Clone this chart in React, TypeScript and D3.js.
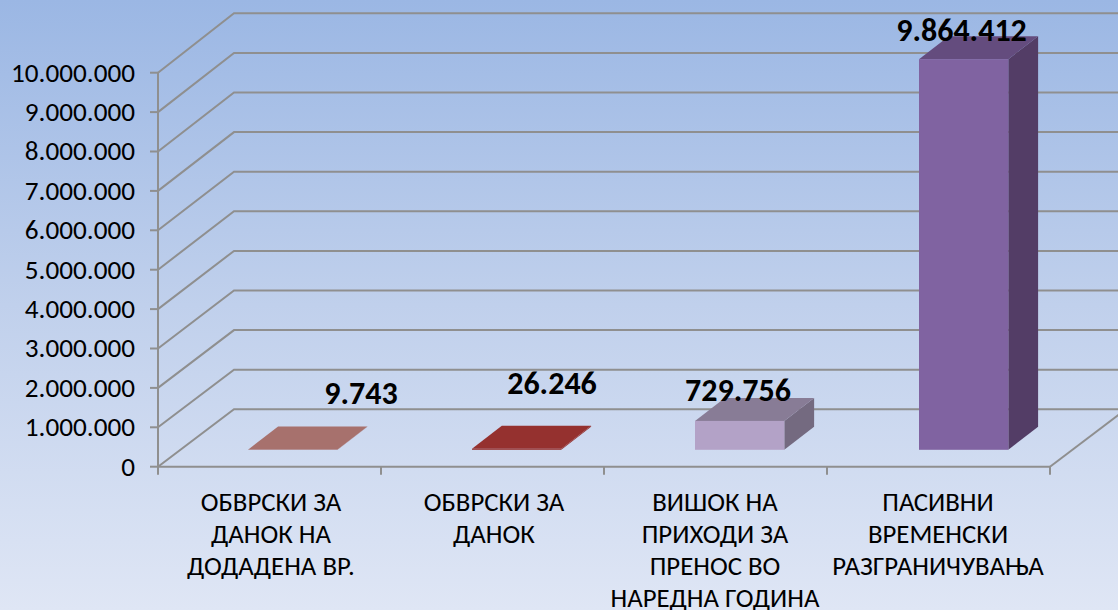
import React from "react";
import * as d3 from "d3";

const categories = [
  ["ОБВРСКИ ЗА", "ДАНОК НА", "ДОДАДЕНА ВР."],
  ["ОБВРСКИ ЗА", "ДАНОК"],
  ["ВИШОК НА", "ПРИХОДИ ЗА", "ПРЕНОС ВО", "НАРЕДНА ГОДИНА"],
  ["ПАСИВНИ", "ВРЕМЕНСКИ", "РАЗГРАНИЧУВАЊА"],
];
const values = [9743, 26246, 729756, 9864412];
const valueLabels = ["9.743", "26.246", "729.756", "9.864.412"];
const tickValues = [0, 1000000, 2000000, 3000000, 4000000, 5000000, 6000000, 7000000, 8000000, 9000000, 10000000];
const frontColors = ["#a7716d", "#95312f", "#b3a2c7", "#8063a1"];
const topColors = ["#a7716d", "#95312f", "#887c96", "#644c7e"];
const sideColors = ["#a7716d", "#95312f", "#746a80", "#533d66"];
const labelOffsets = [[361, 393], [552, 383], [738, 390], [961.5, 30]];
const labelCenters = [271, 494, 715, 938];
const barInsets = [90.3, 91, 91, 92];

const W = 1118, H = 610;
const FONT = "Carlito, Calibri, Lato, 'Open Sans', 'Noto Sans', sans-serif";
const GRID = "#8f8f8f";

const x = d3.scaleBand<number>().domain([0, 1, 2, 3]).range([158, 1050]).paddingInner(0);
const y = d3.scaleLinear().domain([0, 10000000]).range([466.7, 72.7]);
const yBack = d3.scaleLinear().domain([0, 10000000]).range([409.3, 13.3]);
const fmt = (v: number) => d3.format(",")(v).replace(/,/g, ".");
const wallDx = 76;
const barDx = 29.8, barDy = -23, barBaseY = 449.8, barW = 89.3;
const poly = (pts: number[][]) => pts.map((p) => p.join(",")).join(" ");

export default function App() {
  const right = x.range()[1];
  return (
    <svg width={W} height={H} viewBox={`0 0 ${W} ${H}`} style={{ position: "absolute", left: 0, top: 0 }} fontFamily={FONT}>
      <defs>
        <linearGradient id="bg" x1="0" y1="0" x2="0" y2="1">
          <stop offset="0" stopColor="#9bb7e4" />
          <stop offset="0.5" stopColor="#c0d0ec" />
          <stop offset="1" stopColor="#dfe6f5" />
        </linearGradient>
      </defs>
      <rect width={W} height={H} fill="url(#bg)" />
      {tickValues.map((t) => (
        <g key={t}>
          <polyline points={poly([[158, y(t)], [158 + wallDx, yBack(t)], [W + 10, yBack(t)]])} fill="none" stroke={GRID} strokeWidth={2} />
          <line x1={150} x2={158} y1={y(t)} y2={y(t)} stroke={GRID} strokeWidth={2} />
          <text x={135} y={y(t)} dy="0.33em" textAnchor="end" fontSize={27.2} fill="#000">{fmt(t)}</text>
        </g>
      ))}
      <line x1={158} x2={158} y1={y(10000000)} y2={y(0) + 8} stroke={GRID} strokeWidth={2} />
      <line x1={158} x2={right} y1={y(0)} y2={y(0)} stroke={GRID} strokeWidth={2} />
      <line x1={right} x2={right + wallDx} y1={y(0)} y2={yBack(0)} stroke={GRID} strokeWidth={2} />
      {categories.map((_, i) => (
        <line key={i} x1={(x(i) as number) + x.bandwidth()} x2={(x(i) as number) + x.bandwidth()} y1={y(0)} y2={y(0) + 8} stroke={GRID} strokeWidth={2} />
      ))}
      {values.map((v, i) => {
        const x0 = (x(i) as number) + barInsets[i];
        const x1 = x0 + barW;
        const h = yBack(0) - yBack(v);
        const top = barBaseY - h;
        return (
          <g key={i}>
            <polygon points={poly([[x1, barBaseY], [x1 + barDx, barBaseY + barDy], [x1 + barDx, top + barDy], [x1, top]])} fill={sideColors[i]} />
            <polygon points={poly([[x0, top], [x0 + barDx, top + barDy], [x1 + barDx, top + barDy], [x1, top]])} fill={topColors[i]} />
            <rect x={x0} y={top} width={barW} height={h} fill={frontColors[i]} />
          </g>
        );
      })}
      {valueLabels.map((l, i) => (
        <text key={i} x={labelOffsets[i][0]} y={labelOffsets[i][1]} dy="0.35em" textAnchor="middle" fontSize={32} fontWeight={700} fill="#000">{l}</text>
      ))}
      {categories.map((lines, i) => (
        <text key={i} textAnchor="middle" fontSize={26.8} fill="#000">
          {lines.map((ln, j) => (
            <tspan key={j} x={labelCenters[i]} y={511 + j * 32}>{ln}</tspan>
          ))}
        </text>
      ))}
    </svg>
  );
}
